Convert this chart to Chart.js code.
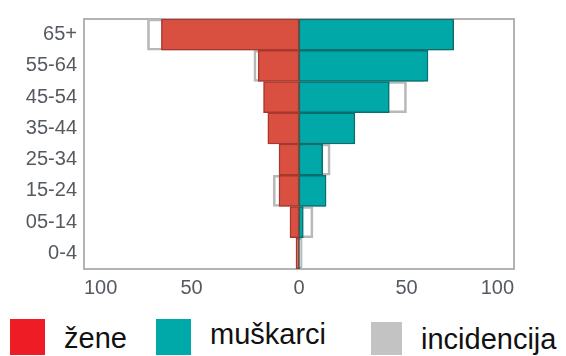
<!DOCTYPE html>
<html>
<head>
<meta charset="utf-8">
<script src="https://cdn.jsdelivr.net/npm/chart.js@4.4.1/dist/chart.umd.min.js"></script>
<style>
  html, body { margin: 0; padding: 0; background: #fff; }
  #wrap { position: relative; width: 566px; height: 356px; overflow: hidden; }
  #box { position: absolute; left: 0; top: 0; width: 566px; height: 305px; }
  .sw { position: absolute; }
  .lbl { position: absolute; font-family: 'Liberation Sans', Arial, sans-serif; font-size: 29px; line-height: 29px; color: #111; white-space: nowrap; }
</style>
</head>
<body>
<div id="wrap">
  <div id="box"><canvas id="pyramid"></canvas></div>
  <div class="sw" style="left:10px;top:319px;width:35px;height:36px;background:#ee1c24"></div>
  <div class="lbl" style="left:64px;top:324px">žene</div>
  <div class="sw" style="left:156px;top:319px;width:35px;height:36px;background:#00a9a9"></div>
  <div class="lbl" style="left:210px;top:320px">muškarci</div>
  <div class="sw" style="left:371px;top:322px;width:31px;height:33px;background:#c3c3c3"></div>
  <div class="lbl" style="left:421px;top:325px">incidencija</div>
</div>
<script>
const ageGroups = ['65+', '55-64', '45-54', '35-44', '25-34', '15-24', '05-14', '0-4'];
const women = [64, 19, 16.5, 14.5, 9.3, 9.3, 4.2, 1.4];
const men = [72, 60, 42, 26, 11, 12.6, 2, 0.5];
const incidenceWomen = [70.5, 21, 16, 14, 9, 12, 4, 1.2];
const incidenceMen = [70, 58, 50, 25, 14.5, 12, 6.5, 1.5];
const xTicks = [-100, -50, 0, 50, 100];

const neg = arr => arr.map(v => -v);

const framePlugin = {
    id: 'frame',
    beforeDatasetsDraw(chart) {
        const a = chart.chartArea;
        const c = chart.ctx;
        c.save();
        c.strokeStyle = '#b3b3b3';
        c.lineWidth = 2;
        c.strokeRect(a.left, a.top, a.right - a.left, a.bottom - a.top);
        c.restore();
    }
};

const ctx = document.getElementById('pyramid').getContext('2d');

new Chart(ctx, {
    type: 'bar',
    data: {
        labels: ageGroups,
        datasets: [
            {
                label: 'žene',
                data: neg(women),
                backgroundColor: '#d94f40',
                borderColor: '#a9372c',
                borderWidth: 1.5,
                borderSkipped: false,
                order: 1
            },
            {
                label: 'muškarci',
                data: men,
                backgroundColor: '#00a8a8',
                borderColor: '#0b6d6c',
                borderWidth: 1.5,
                borderSkipped: false,
                order: 1
            },
            {
                label: 'incidencija',
                data: neg(incidenceWomen),
                backgroundColor: 'rgba(255,255,255,0)',
                borderColor: '#b8b8b8',
                borderWidth: 2,
                borderSkipped: false,
                order: 2
            },
            {
                label: 'incidencija',
                data: incidenceMen,
                backgroundColor: 'rgba(255,255,255,0)',
                borderColor: '#b8b8b8',
                borderWidth: 2,
                borderSkipped: false,
                order: 2
            }
        ]
    },
    options: {
        indexAxis: 'y',
        responsive: true,
        maintainAspectRatio: false,
        animation: false,
        grouped: false,
        categoryPercentage: 1,
        barPercentage: 1,
        layout: { padding: { top: 12, right: 52, left: 0, bottom: 0 } },
        plugins: {
            legend: { display: false },
            tooltip: { enabled: false }
        },
        scales: {
            x: {
                min: -100,
                max: 100,
                afterBuildTicks: function (scale) {
                    scale.ticks = xTicks.map(v => ({ value: v }));
                },
                afterFit: function (scale) { scale.height = 36; },
                grid: { display: false, drawTicks: false },
                border: { display: false },
                ticks: {
                    align: 'inner',
                    padding: 7,
                    color: '#555a60',
                    font: { family: 'Liberation Sans', size: 20 },
                    callback: function (value) { return Math.abs(value); }
                }
            },
            y: {
                afterFit: function (scale) { scale.width = 84; },
                grid: { display: false, drawTicks: false },
                border: { display: false },
                ticks: {
                    padding: 7,
                    color: '#555a60',
                    font: { family: 'Liberation Sans', size: 20 }
                }
            }
        }
    },
    plugins: [framePlugin]
});
</script>
</body>
</html>
